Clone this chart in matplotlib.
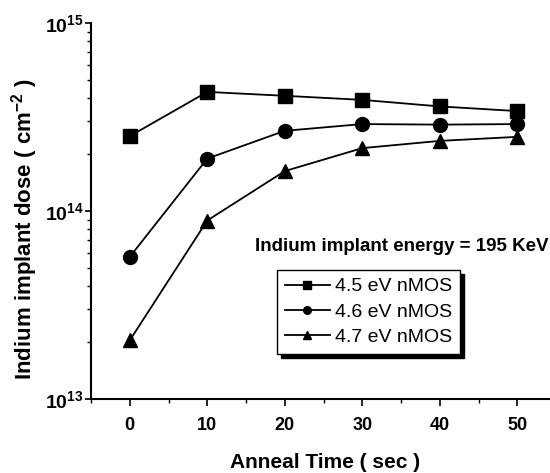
import matplotlib
matplotlib.use("Agg")
import matplotlib.pyplot as plt
from matplotlib.ticker import FixedLocator, LogLocator, NullFormatter, MultipleLocator

plt.rcParams['font.family'] = ['Liberation Sans', 'DejaVu Sans']
plt.rcParams['mathtext.fontset'] = 'custom'
plt.rcParams['mathtext.rm'] = 'Liberation Sans:bold'
plt.rcParams['mathtext.bf'] = 'Liberation Sans:bold'
plt.rcParams['mathtext.default'] = 'bf'

anneal_time = [0, 10, 20, 30, 40, 50]
dose_45 = [2.5e14, 4.3e14, 4.1e14, 3.9e14, 3.6e14, 3.4e14]
dose_46 = [5.7e13, 1.9e14, 2.67e14, 2.9e14, 2.88e14, 2.9e14]
dose_47 = [2.05e13, 8.9e13, 1.63e14, 2.16e14, 2.36e14, 2.48e14]
labels = ['4.5 eV nMOS', '4.6 eV nMOS', '4.7 eV nMOS']
x_ticks = [0, 10, 20, 30, 40, 50]
y_ticks = [1e13, 1e14, 1e15]
y_tick_labels = [r'$10^{13}$', r'$10^{14}$', r'$10^{15}$']

fig = plt.figure(figsize=(5.5, 4.73), dpi=100)
ax = fig.add_axes([91/550, 1-399/473, (556-91)/550, (399-23)/473])

series = [(dose_45, 's'), (dose_46, 'o'), (dose_47, '^')]
for (vals, mk), lab in zip(series, labels):
    ax.plot(anneal_time, vals, color='black', marker=mk, markersize=10,
            linewidth=1.3, label=lab)

ax.set_yscale('log')
ax.set_ylim(1e13, 1e15)
ax.set_xlim(-5, 55)
ax.set_xticks(x_ticks)
ax.set_xticklabels([str(v) for v in x_ticks], fontsize=13, fontweight='bold')
ax.xaxis.set_minor_locator(MultipleLocator(5))
ax.yaxis.set_major_locator(FixedLocator(y_ticks))
ax.set_yticklabels(y_tick_labels, fontsize=14)
ax.yaxis.set_minor_locator(LogLocator(base=10, subs=range(2, 10)))
ax.yaxis.set_minor_formatter(NullFormatter())
ax.tick_params(which='major', direction='out', length=5, width=1.2)
ax.tick_params(which='minor', direction='out', length=3, width=1.0)
ax.tick_params(axis='x', pad=8)
ax.tick_params(axis='y', which='major', length=4, pad=1)
for side in ['left', 'bottom']:
    ax.spines[side].set_linewidth(1.5)
ax.spines['top'].set_visible(False)
ax.spines['right'].set_visible(False)

ax.set_ylabel(r'Indium implant dose ( cm$^{-2}$ )', fontsize=16, fontweight='bold')
ax.yaxis.set_label_coords(-(91-25)/465, 1-(229-23)/376)
ax.yaxis.label.set_va('center')
ax.set_xlabel('Anneal Time ( sec )', fontsize=15, fontweight='bold')
ax.xaxis.set_label_coords((325-91)/(556-91), -(462-399)/376)
ax.xaxis.label.set_va('center')

fig.text(255/550, 1-246/473, 'Indium implant energy = 195 KeV', fontsize=13.5,
         fontweight='bold', va='center', ha='left')

leg = ax.legend(loc='upper left', bbox_to_anchor=(277/550, 1-270/473),
                bbox_transform=fig.transFigure, fontsize=14, frameon=True,
                fancybox=False, edgecolor='black', handlelength=2.3,
                handletextpad=0.3, borderpad=0.4, borderaxespad=0,
                labelspacing=0.4, markerscale=0.55,
                shadow={'ox': 3, 'oy': -3, 'color': 'black', 'alpha': 1})
leg.get_frame().set_linewidth(1.0)

fig.savefig('out.png', dpi=100)
